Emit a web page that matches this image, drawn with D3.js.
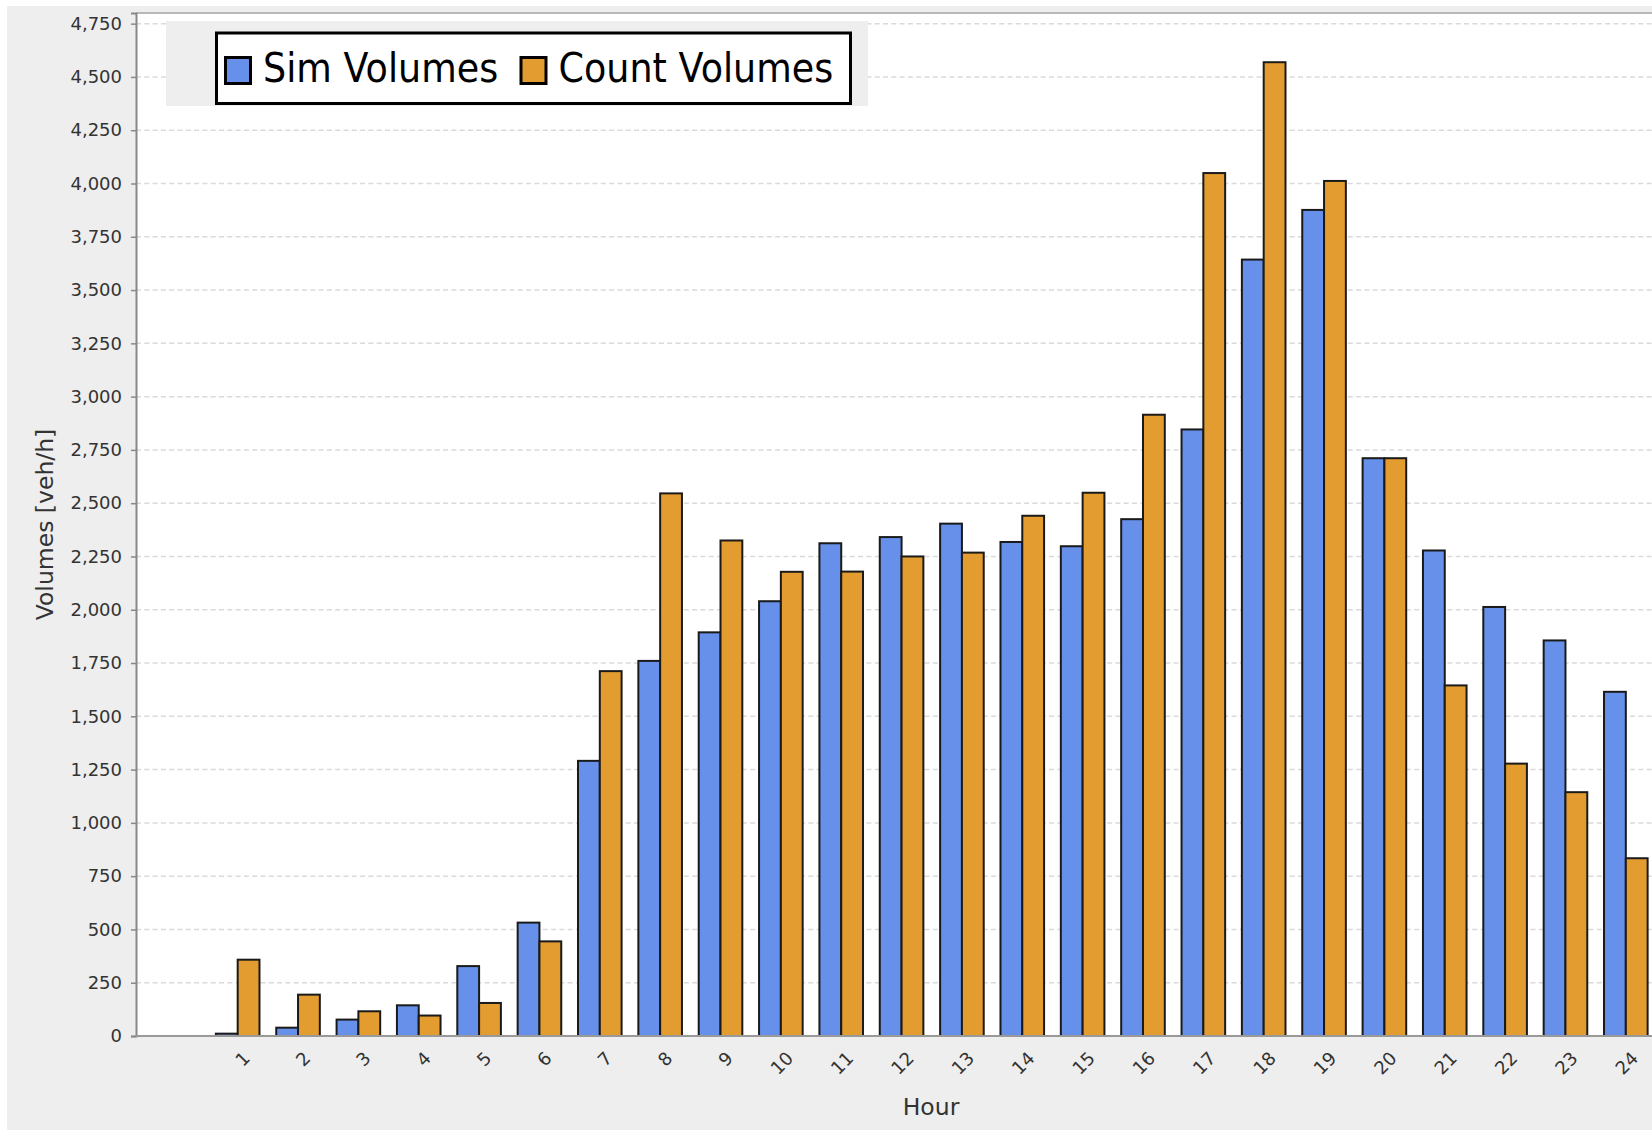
<!DOCTYPE html>
<html>
<head>
<meta charset="utf-8">
<script src="https://cdn.jsdelivr.net/npm/d3@7"></script>
<style>
    body { margin: 0; background: #fff; }
    text { font-family: "DejaVu Sans", sans-serif; }
</style>
</head>
<body>
<svg id="mainSVG" width="1652" height="1130"></svg>
<script>
const hours = ["1", "2", "3", "4", "5", "6", "7", "8", "9", "10", "11", "12",
    "13", "14", "15", "16", "17", "18", "19", "20", "21", "22", "23", "24"]
const simVolumes = [11, 39, 77, 144, 328, 532, 1291, 1760, 1894, 2040, 2312, 2341,
    2404, 2318, 2298, 2425, 2846, 3643, 3876, 2711, 2278, 2013, 1856, 1615]
const countVolumes = [358, 194, 116, 96, 155, 444, 1712, 2546, 2325, 2178, 2179, 2250,
    2268, 2441, 2549, 2915, 4049, 4569, 4012, 2711, 1645, 1278, 1144, 834]
const yTicks = d3.range(0, 4751, 250)
const seriesNames = ["Sim Volumes", "Count Volumes"]
const seriesColors = ["#6690ea", "#e39c30"]

const svg = d3.select("#mainSVG")
const plot = {left: 136, right: 1726, top: 13, bottom: 1036}

// chart background
svg.append("rect").attr("x", 7).attr("y", 6).attr("width", 1652).attr("height", 1130).attr("fill", "#eeeeee")
svg.append("rect")
    .attr("x", plot.left).attr("y", plot.top)
    .attr("width", plot.right - plot.left).attr("height", plot.bottom - plot.top)
    .attr("fill", "#fff")

const x = d3.scaleBand().domain(hours).range([plot.left + 71.5, plot.right - 70])
const xs = d3.scaleBand().domain(seriesNames).range([0, 43.6])
const y = d3.scaleLinear().domain([0, 4800]).range([plot.bottom, plot.top])

// gridlines
svg.append("g").selectAll("line").data(yTicks.slice(1)).join("line")
    .attr("x1", plot.left).attr("x2", plot.right)
    .attr("y1", d => y(d)).attr("y2", d => y(d))
    .attr("stroke", "#dadada").attr("stroke-width", 1.5)
    .attr("stroke-dasharray", "5,3.3")

// bars
const rows = hours.map((h, i) => ({hour: h, values: [simVolumes[i], countVolumes[i]]}))
const groups = svg.append("g").selectAll("g").data(rows).join("g")
    .attr("transform", d => `translate(${x(d.hour) + (x.bandwidth() - 43.6) / 2},0)`)
groups.selectAll("rect").data(d => d.values.map((v, k) => ({k: k, v: v}))).join("rect")
    .attr("x", d => xs(seriesNames[d.k]))
    .attr("width", xs.bandwidth())
    .attr("y", d => y(d.v))
    .attr("height", d => y(0) - y(d.v))
    .attr("fill", d => seriesColors[d.k])
    .attr("stroke", "#1a1a1a").attr("stroke-width", 2)

// plot outline and axes
svg.append("line").attr("x1", plot.left).attr("x2", plot.right).attr("y1", plot.top).attr("y2", plot.top)
    .attr("stroke", "#b8b8b8").attr("stroke-width", 2)

const yAxis = svg.append("g")
    .attr("transform", `translate(${plot.left},0)`)
    .call(d3.axisLeft(y).tickValues(yTicks).tickFormat(d3.format(",")).tickSize(5).tickPadding(9))
yAxis.select(".domain").attr("stroke", "#888").attr("stroke-width", 2)
yAxis.selectAll(".tick line").attr("stroke", "#888").attr("stroke-width", 1.5)
yAxis.selectAll(".tick text").attr("font-size", 18).attr("fill", "#333")
    .style("font-family", "DejaVu Sans")

svg.append("line").attr("x1", plot.left).attr("x2", plot.right).attr("y1", plot.bottom).attr("y2", plot.bottom)
    .attr("stroke", "#999").attr("stroke-width", 2)

// category labels, rotated 45 degrees
svg.append("g").selectAll("text").data(hours).join("text")
    .attr("transform", d => `translate(${x(d) + x.bandwidth() / 2 + 9},1055) rotate(-45)`)
    .attr("text-anchor", "end")
    .attr("dy", "0.35em")
    .attr("font-size", 18)
    .attr("fill", "#333")
    .text(d => d)

// axis titles
svg.append("text")
    .attr("x", (plot.left + plot.right) / 2).attr("y", 1115)
    .attr("text-anchor", "middle")
    .attr("font-size", 23.5).attr("fill", "#333")
    .text("Hour")

svg.append("text")
    .attr("transform", `translate(53,${(plot.top + plot.bottom) / 2}) rotate(-90)`)
    .attr("text-anchor", "middle")
    .attr("font-size", 23.5).attr("fill", "#333")
    .text("Volumes [veh/h]")

// legend
const legend = svg.append("g")
legend.append("rect").attr("x", 166).attr("y", 21).attr("width", 702).attr("height", 85).attr("fill", "#eeeeee")
legend.append("rect").attr("x", 216.5).attr("y", 33).attr("width", 634).attr("height", 70.5)
    .attr("fill", "#fff").attr("stroke", "#000").attr("stroke-width", 3)

const legendItems = [{x: 224}, {x: 519.5}]
legendItems.forEach((item, k) => {
    legend.append("rect")
        .attr("x", item.x + 1.5).attr("y", 57.5).attr("width", 25).attr("height", 26)
        .attr("fill", seriesColors[k]).attr("stroke", "#000").attr("stroke-width", 3)
    legend.append("text")
        .attr("transform", `translate(${item.x + 39},82) scale(1,1.12)`)
        .attr("font-size", 36.5).attr("fill", "#000")
        .text(seriesNames[k])
})
</script>
</body>
</html>
